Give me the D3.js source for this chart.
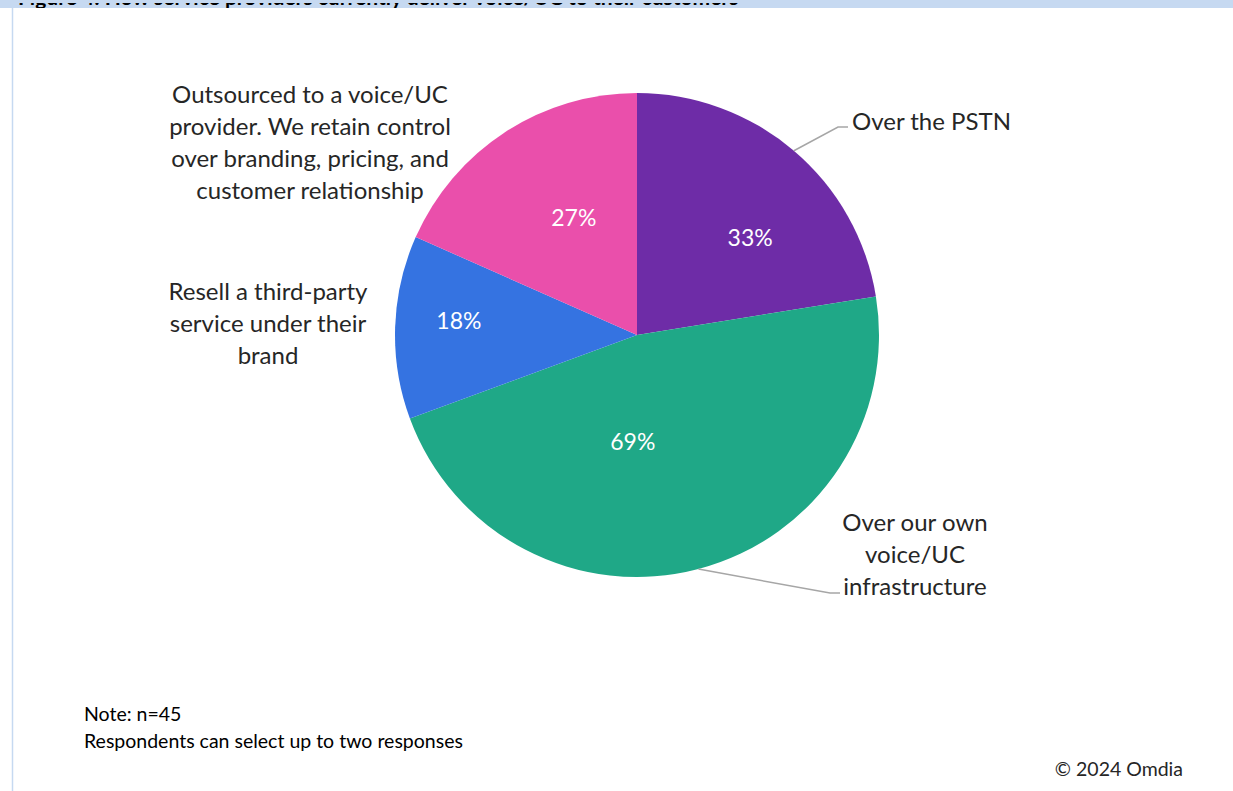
<!DOCTYPE html>
<html>
<head>
<meta charset="utf-8">
<script src="https://cdn.jsdelivr.net/npm/d3@7"></script>
<style>
  body { margin: 0; background: #fff; }
  svg { display: block; }
</style>
</head>
<body>
<script>
'use strict'

var width = 1233
var height = 791

// data
var categories = [
  "Over the PSTN",
  "Over our own voice/UC infrastructure",
  "Resell a third-party service under their brand",
  "Outsourced to a voice/UC provider. We retain control over branding, pricing, and customer relationship"
]
var values = [33, 69, 18, 27]
var colors = ["#6E2CA7", "#1FA887", "#3573E1", "#EA4FAB"]
var labelLines = [
  ["Over the PSTN"],
  ["Over our own", "voice/UC", "infrastructure"],
  ["Resell a third-party", "service under their", "brand"],
  ["Outsourced to a voice/UC", "provider. We retain control", "over branding, pricing, and", "customer relationship"]
]
var noteLines = ["Note: n=45", "Respondents can select up to two responses"]
var source = "\u00a9 2024 Omdia"
var title = "Figure 4: How service providers currently deliver voice/UC to their customers"

// layout
var cx = 637, cy = 335, radius = 242
var pctNudge = [[19, 13], [-41, -34], [-33, -10], [16, 4]]
var catPos = [
  { x: 852, y: 120, anchor: "start", leader: [[838, 127], [848, 127]] },
  { x: 915, y: 521, anchor: "middle", leader: [[830, 593], [840, 593]] },
  { x: 268, y: 290, anchor: "middle", leader: null },
  { x: 310, y: 93, anchor: "middle", leader: null }
]
var lineGap = 32

var svg = d3.select("body").append("svg")
  .attr("width", width)
  .attr("height", height)

// frame
svg.append("rect").attr("x", 0).attr("y", 0).attr("width", width).attr("height", 8).attr("fill", "#C6D9F1")
svg.append("line").attr("x1", 12.5).attr("x2", 12.5).attr("y1", 8).attr("y2", height)
  .attr("stroke", "#C6D9F1").attr("stroke-width", 1.5)

var clip = svg.append("clipPath").attr("id", "topclip")
clip.append("rect").attr("x", 0).attr("y", 3).attr("width", width).attr("height", 5)
svg.append("text")
  .attr("clip-path", "url(#topclip)")
  .attr("x", 18).attr("y", 5)
  .attr("font-family", "Lato, sans-serif")
  .attr("font-weight", "bold")
  .attr("font-size", 21)
  .attr("fill", "#000")
  .text(title)

var pie = d3.pie().sort(null).value(d => d)
var arcs = pie(values)
var arc = d3.arc().innerRadius(0).outerRadius(radius)
var labelArc = d3.arc().innerRadius(radius * 0.6).outerRadius(radius * 0.6)

var g = svg.append("g").attr("transform", "translate(" + cx + "," + cy + ")")

g.selectAll("path.slice")
  .data(arcs)
  .enter()
  .append("path")
  .attr("class", "slice")
  .attr("d", arc)
  .attr("fill", (d, i) => colors[i])

// percentage labels
g.selectAll("text.pct")
  .data(arcs)
  .enter()
  .append("text")
  .attr("class", "pct")
  .attr("x", (d, i) => labelArc.centroid(d)[0] + pctNudge[i][0])
  .attr("y", (d, i) => labelArc.centroid(d)[1] + pctNudge[i][1])
  .attr("text-anchor", "middle")
  .attr("dominant-baseline", "central")
  .attr("font-family", "Lato, sans-serif")
  .attr("font-size", 23)
  .attr("fill", "#fff")
  .text(d => d.value + "%")

// leader lines
arcs.forEach(function(d, i) {
  var p = catPos[i]
  if (!p.leader) return
  var mid = (d.startAngle + d.endAngle) / 2
  var sx = cx + radius * Math.sin(mid)
  var sy = cy - radius * Math.cos(mid)
  var pts = [[sx, sy]].concat(p.leader)
  svg.append("path")
    .attr("d", d3.line()(pts))
    .attr("fill", "none")
    .attr("stroke", "#A6A6A6")
    .attr("stroke-width", 1.5)
})

// category labels
catPos.forEach(function(p, i) {
  var t = svg.append("text")
    .attr("font-family", "Lato, sans-serif")
    .attr("font-size", 24)
    .attr("fill", "#262626")
    .attr("text-anchor", p.anchor)
  labelLines[i].forEach(function(line, j) {
    t.append("tspan")
      .attr("x", p.x)
      .attr("y", p.y + j * lineGap)
      .attr("dominant-baseline", "central")
      .text(line)
  })
})

// notes
noteLines.forEach(function(line, j) {
  svg.append("text")
    .attr("x", 84).attr("y", 713 + j * 27)
    .attr("dominant-baseline", "central")
    .attr("font-family", "Lato, sans-serif")
    .attr("font-size", 19.5)
    .attr("fill", "#000")
    .text(line)
})

svg.append("text")
  .attr("x", 1183).attr("y", 768)
  .attr("text-anchor", "end")
  .attr("dominant-baseline", "central")
  .attr("font-family", "Lato, sans-serif")
  .attr("font-size", 19.5)
  .attr("fill", "#262626")
  .text(source)
</script>
</body>
</html>
